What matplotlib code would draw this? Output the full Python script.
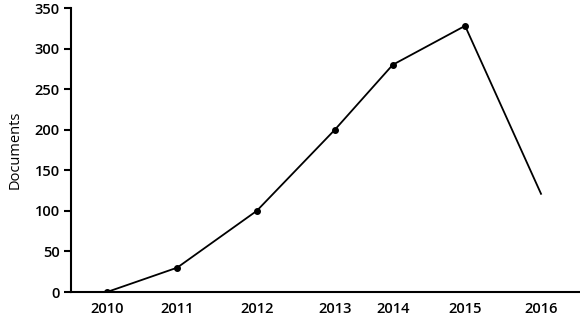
import matplotlib
matplotlib.use("Agg")
import matplotlib.pyplot as plt

years = ["2010", "2011", "2012", "2013", "2014", "2015", "2016"]
x_vals = [2010.0, 2010.97, 2012.07, 2013.15, 2013.95, 2014.95, 2016.0]
documents = [0, 30, 100, 200, 280, 328, 121]

plt.rcParams['font.family'] = ['Open Sans', 'DejaVu Sans']

fig = plt.figure(figsize=(5.8, 3.2), dpi=100)
ax = fig.add_axes([0.1224, 0.0875, 0.876, 0.8875])

ax.plot(x_vals, documents, color='black', lw=1.3, zorder=3)
ax.plot(x_vals[:-1], documents[:-1], 'o', color='black', ms=4, zorder=4)

ax.set_xlim(2009.502, 2016.526)
ax.set_ylim(0, 350)
ax.set_yticks(range(0, 351, 50))
ax.set_xticks(x_vals)
ax.set_xticklabels(years)

for s in ['top', 'right']:
    ax.spines[s].set_visible(False)
for s in ['left', 'bottom']:
    ax.spines[s].set_linewidth(1.5)

ax.tick_params(axis='y', length=5, width=1.5, pad=3, labelsize=10.5)
ax.tick_params(axis='x', length=0, pad=7, labelsize=10.5)
for lab in ax.get_xticklabels() + ax.get_yticklabels():
    lab.set_fontweight('semibold')

ax.set_ylabel('Documents', fontsize=10.5, labelpad=9)

fig.savefig('out.png', dpi=100)
